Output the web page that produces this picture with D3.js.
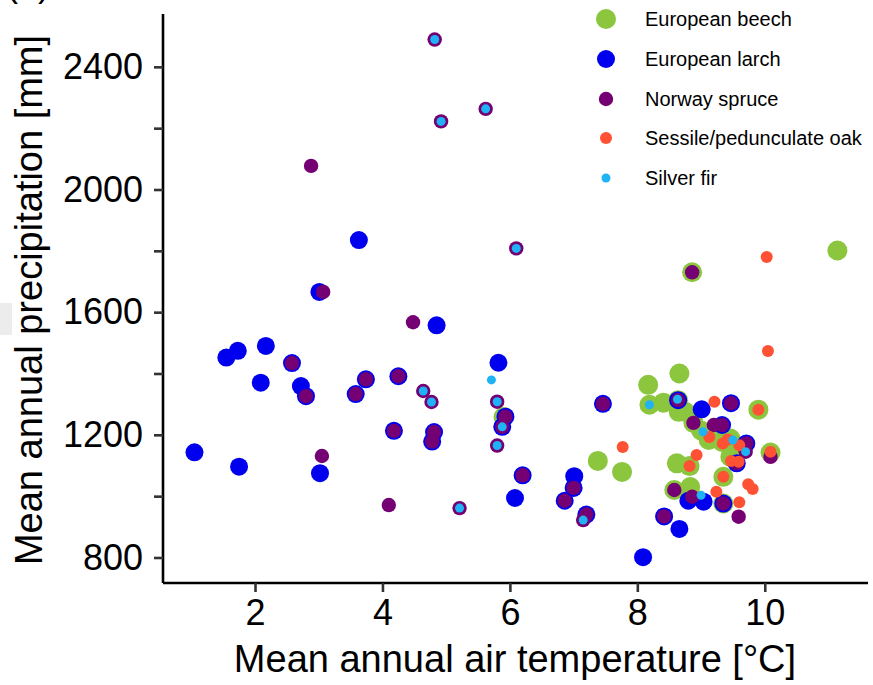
<!DOCTYPE html>
<html>
<head>
<meta charset="utf-8">
<script src="https://cdn.jsdelivr.net/npm/d3@7"></script>
<style>
  body { margin: 0; background: #fff; }
  svg text { font-family: "Liberation Sans", Arial, sans-serif; }
</style>
</head>
<body>
<script>
// [mean annual temperature °C, mean annual precipitation mm]
const beech = [
  [11.14, 1801], [8.86, 1730], [8.66, 1400], [8.17, 1363], [8.19, 1298], [8.41, 1305],
  [8.64, 1313], [8.65, 1275], [8.75, 1275], [9.90, 1282], [8.88, 1239], [9.00, 1214],
  [9.12, 1183], [9.33, 1177], [9.46, 1128], [9.51, 1141], [10.09, 1142], [8.62, 1107],
  [8.82, 1098], [9.35, 1063], [8.58, 1020], [8.83, 1030], [9.35, 976], [7.38, 1115],
  [7.76, 1079], [5.90, 1258], [9.19, 1202], [9.61, 1157], [9.46, 1188]
];
const larch = [
  [3.01, 1666], [4.85, 1557], [1.55, 1452], [1.73, 1474], [2.17, 1490], [2.58, 1434],
  [2.09, 1370], [2.72, 1359], [2.80, 1326], [3.58, 1333], [3.74, 1381], [4.25, 1391],
  [4.18, 1213], [4.81, 1209], [4.78, 1178], [1.05, 1143], [1.75, 1096], [3.02, 1075],
  [3.63, 1835], [5.82, 1435], [5.93, 1259], [5.88, 1226], [6.20, 1068], [6.08, 994],
  [7.01, 1065], [7.00, 1027], [6.86, 985], [7.20, 940], [7.46, 1301], [8.09, 801],
  [8.42, 934], [8.64, 1313], [9.01, 1283], [9.47, 1303], [9.33, 1232], [9.71, 1172],
  [9.56, 1107], [8.80, 985], [9.04, 982], [9.35, 976], [8.66, 893]
];
const spruce = [
  [2.88, 2077], [3.07, 1666], [4.48, 1567], [2.58, 1434], [2.80, 1326], [3.58, 1333],
  [3.74, 1381], [4.25, 1391], [4.64, 1343], [4.77, 1307], [4.18, 1213], [4.81, 1209],
  [4.78, 1178], [3.05, 1131], [4.10, 971], [4.82, 2489], [5.62, 2263], [4.92, 2222],
  [6.10, 1808], [5.80, 1308], [5.93, 1259], [5.88, 1226], [5.80, 1165], [6.20, 1068],
  [5.21, 961], [7.00, 1027], [6.86, 985], [7.20, 940], [7.15, 922], [7.46, 1301],
  [8.42, 934], [8.86, 1730], [8.64, 1313], [9.47, 1303], [8.88, 1239], [9.20, 1232],
  [9.33, 1232], [9.71, 1172], [9.56, 1107], [10.09, 1128], [8.58, 1020], [8.86, 998],
  [9.35, 976], [9.59, 933], [9.70, 1145]
];
const oak = [
  [10.03, 1780], [10.05, 1473], [7.77, 1160], [9.21, 1308], [9.90, 1282], [9.13, 1193],
  [9.34, 1172], [9.42, 1185], [9.60, 1166], [10.09, 1145], [8.93, 1134], [8.82, 1098],
  [9.47, 1115], [9.59, 1112], [9.35, 1063], [9.74, 1039], [9.81, 1023], [9.24, 1014],
  [9.60, 980]
];
const fir = [
  [4.82, 2489], [5.62, 2263], [4.92, 2222], [6.10, 1808], [4.64, 1343], [4.77, 1307],
  [5.71, 1379], [5.80, 1308], [5.88, 1226], [5.80, 1165], [5.21, 961], [7.15, 922],
  [8.19, 1298], [8.63, 1316], [9.03, 1210], [9.50, 1183], [9.70, 1145], [9.00, 1003]
];

const speciesNames = ["European beech", "European larch", "Norway spruce", "Sessile/pedunculate oak", "Silver fir"];
const speciesColors = ["#8cc63f", "#0000ee", "#740074", "#ff5133", "#1fb2f5"];
const speciesRadius = [10, 9, 7.2, 6, 4.5];
const speciesData = [beech, larch, spruce, oak, fir];

const xTicks = [2, 4, 6, 8, 10];
const yTicks = [800, 1000, 1200, 1400, 1600, 1800, 2000, 2200, 2400];
const yLabels = [800, 1200, 1600, 2000, 2400];

const width = 873, height = 685;

const svg = d3.select("body").append("svg")
  .attr("width", width)
  .attr("height", height);

const x = d3.scaleLinear().domain([0.556, 11.62]).range([163, 868]);
const y = d3.scaleLinear().domain([716.8, 2572.3]).range([583, 14]);

// stray bits of the original figure
svg.append("rect").attr("x", 0).attr("y", 303).attr("width", 12).attr("height", 32).attr("fill", "#ececec");
svg.append("text").attr("x", 6).attr("y", -4).style("font-size", "36px").text("(a)");

// points, one layer per species
speciesData.forEach((pts, i) => {
  svg.append("g")
    .selectAll("circle")
    .data(pts)
    .enter().append("circle")
    .attr("cx", d => x(d[0]))
    .attr("cy", d => y(d[1]))
    .attr("r", speciesRadius[i])
    .attr("fill", speciesColors[i]);
});

// axes
const xAxis = svg.append("g")
  .attr("transform", "translate(0,583)")
  .call(d3.axisBottom(x).tickValues(xTicks).tickSize(9).tickPadding(7).tickFormat(d3.format("d")));

const yAxis = svg.append("g")
  .attr("transform", "translate(163,0)")
  .call(d3.axisLeft(y).tickValues(yTicks).tickSize(9).tickPadding(11)
    .tickFormat(d => yLabels.includes(d) ? d : ""));

[xAxis, yAxis].forEach(g => {
  g.select(".domain").attr("stroke", "#000").attr("stroke-width", 2.6);
  g.selectAll(".tick line").attr("stroke", "#333").attr("stroke-width", 2.6);
  g.selectAll(".tick text").attr("fill", "#000").style("font-size", "36px")
    .style("font-family", "'Liberation Sans', Arial, sans-serif");
});
// axis lines run the full range without outer ticks
xAxis.select(".domain").attr("d", "M163,0H868");
yAxis.select(".domain").attr("d", "M0,583V14");

// titles
svg.append("text")
  .attr("x", 515).attr("y", 672)
  .attr("text-anchor", "middle")
  .style("font-size", "38px")
  .text("Mean annual air temperature [°C]");

svg.append("text")
  .attr("transform", "translate(42,300) rotate(-90)")
  .attr("text-anchor", "middle")
  .style("font-size", "38px")
  .text("Mean annual precipitation [mm]");

// legend
const legendY = [19, 59, 99, 138, 178];
const legend = svg.append("g");
speciesNames.forEach((name, i) => {
  legend.append("circle")
    .attr("cx", 606).attr("cy", legendY[i])
    .attr("r", speciesRadius[i])
    .attr("fill", speciesColors[i]);
  legend.append("text")
    .attr("x", 645).attr("y", legendY[i])
    .attr("dy", "0.35em")
    .style("font-size", "20px")
    .text(name);
});
</script>
</body>
</html>
